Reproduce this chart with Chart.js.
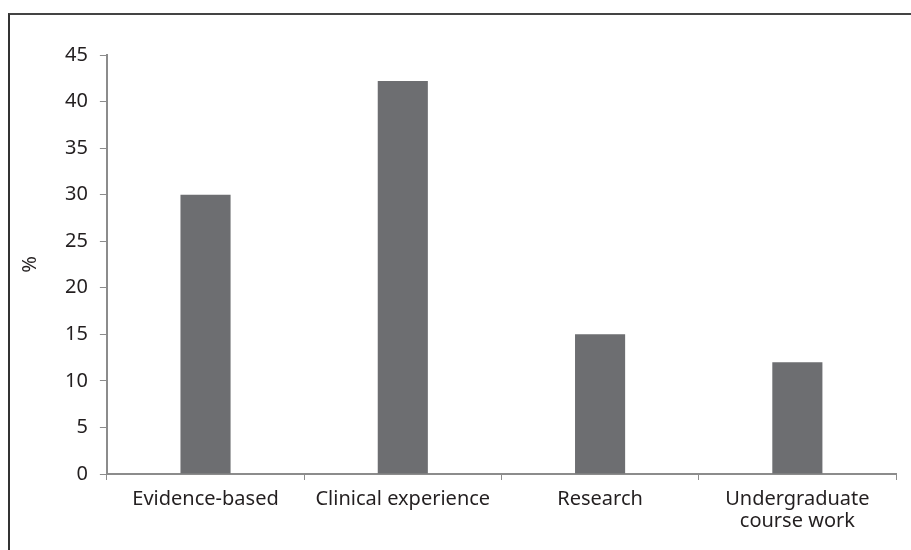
<!DOCTYPE html>
<html>
<head>
<meta charset="utf-8">
<script src="https://cdn.jsdelivr.net/npm/chart.js@4"></script>
<style>
  html, body { margin: 0; padding: 0; background: #fff; }
  #wrap { position: relative; width: 911px; height: 550px; }
  #frame { position: absolute; left: 8px; top: 13px; right: 0; bottom: 0;
           border-top: 2px solid #444; border-left: 2px solid #333; }
  canvas { position: absolute; left: 0; top: 0; }
</style>
</head>
<body>
<div id="wrap">
  <div id="frame"></div>
  <canvas id="chart" width="911" height="550"></canvas>
</div>
<script>
const CATEGORIES = ["Evidence-based", "Clinical experience", "Research", ["Undergraduate", "course work"]]
const PERCENT = [30, 42.2, 15, 12]
const Y_MIN = 0
const Y_MAX = 45
const Y_STEP = 5

const TEXT = "#231f20"
const AXIS = "#8c8c8c"
const FONT = { family: "'Noto Sans', sans-serif", size: 20, lineHeight: 1.1 }

new Chart(document.getElementById("chart"), {
  type: "bar",
  data: {
    labels: CATEGORIES,
    datasets: [{
      data: PERCENT,
      backgroundColor: "#6d6e71",
      barPercentage: 1,
      categoryPercentage: 0.254,
    }],
  },
  options: {
    responsive: false,
    animation: false,
    layout: { padding: { top: 55, right: 15, left: 19, bottom: 10 } },
    plugins: { legend: { display: false }, tooltip: { enabled: false } },
    scales: {
      x: {
        grid: { drawOnChartArea: false, drawTicks: true, tickLength: 6, color: AXIS, lineWidth: 1 },
        border: { color: AXIS, width: 2 },
        ticks: { color: TEXT, font: FONT, maxRotation: 0, autoSkip: false, padding: 8 },
      },
      y: {
        min: Y_MIN,
        max: Y_MAX,
        grid: { drawOnChartArea: false, drawTicks: true, tickLength: 7, color: AXIS },
        border: { color: AXIS, width: 2 },
        ticks: { stepSize: Y_STEP, color: TEXT, font: FONT, padding: 12 },
        title: { display: true, text: "%", color: TEXT, font: FONT, padding: { top: 0, bottom: 12 } },
      },
    },
  },
})
</script>
</body>
</html>
